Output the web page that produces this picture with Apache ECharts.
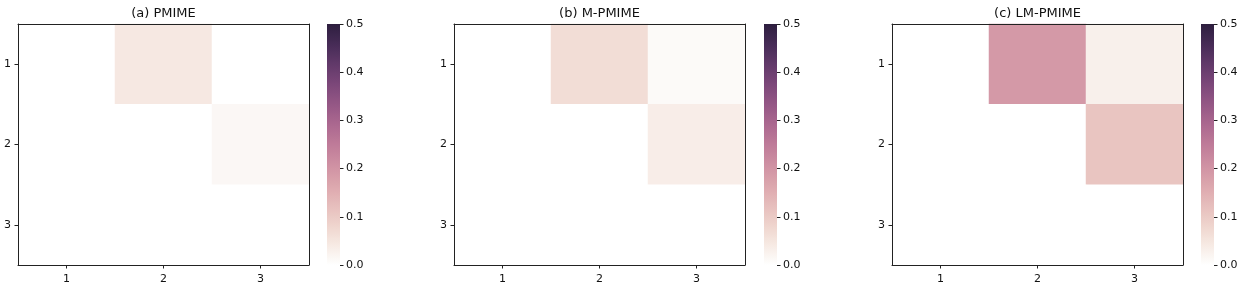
<!DOCTYPE html>
<html><head><meta charset="utf-8">
<script src="https://cdn.jsdelivr.net/npm/echarts@6/dist/echarts.min.js"></script>
<style>html,body{margin:0;padding:0;background:#fff}#c{width:1247px;height:295px}</style>
</head><body><div id="c"></div>
<script>
// ---- data ----
const xCats = ['1', '2', '3'];
const yCats = ['1', '2', '3'];
const titles = ['(a) PMIME', '(b) M-PMIME', '(c) LM-PMIME'];
const pmime   = [[0, 0.045, 0], [0, 0, 0.015], [0, 0, 0]];
const mpmime  = [[0, 0.065, 0.01], [0, 0, 0.035], [0, 0, 0]];
const lmpmime = [[0, 0.19, 0.03], [0, 0, 0.11], [0, 0, 0]];
const colorbarTicks = [0, 0.1, 0.2, 0.3, 0.4, 0.5];
const vMin = 0, vMax = 0.5;

(function () {
// ---- colormap (seaborn cubehelix, light=1, dark=0.15) ----
function cube(x) {
  const hue = 0.8, start = 0, rot = 0.4;
  const xg = x;
  const a = hue * xg * (1 - xg) / 2;
  const phi = 2 * Math.PI * (start / 3 + rot * x);
  const f = (p0, p1) => Math.min(1, Math.max(0, xg + a * (p0 * Math.cos(phi) + p1 * Math.sin(phi))));
  const r = Math.round(f(-0.14861, 1.78277) * 255);
  const g = Math.round(f(-0.29227, -0.90649) * 255);
  const b = Math.round(f(1.97294, 0) * 255);
  return 'rgb(' + r + ',' + g + ',' + b + ')';
}
const light = 1.0, dark = 0.15;
const N = 64;
const palette = [];
for (let i = 0; i < N; i++) { const t = i / (N - 1); palette.push(cube(light + (dark - light) * t)); }

const mats = [pmime, mpmime, lmpmime];
const lefts = [18, 454, 892];
const plotW = 291, plotH = 241, gridTop = 24;
const cbLefts = [327, 764, 1201];
const cbW = 13;
const font = 'DejaVu Sans';

const grid = [], xAxis = [], yAxis = [], series = [], title = [];
mats.forEach((m, k) => {
  grid.push({ left: lefts[k], top: gridTop, width: plotW, height: plotH, containLabel: false });
  grid.push({ left: cbLefts[k], top: gridTop, width: cbW, height: plotH, containLabel: false });
  const gi = 2 * k, ci = 2 * k + 1;
  const xi = xAxis.length, yi = yAxis.length;
  xAxis.push({ type: 'category', gridIndex: gi, data: xCats, position: 'bottom',
    axisLine: { show: true, lineStyle: { color: '#222', width: 1 } },
    axisTick: { show: true, alignWithLabel: true, length: 3.5, lineStyle: { color: '#222' } },
    axisLabel: { fontFamily: font, fontSize: 11, color: '#111', margin: 9 },
    splitLine: { show: false }, z: 5 });
  xAxis.push({ type: 'category', gridIndex: gi, data: xCats, position: 'top',
    axisLine: { show: true, onZero: false, lineStyle: { color: '#222', width: 1 } },
    axisTick: { show: false }, axisLabel: { show: false }, splitLine: { show: false }, z: 5 });
  yAxis.push({ type: 'category', gridIndex: gi, data: yCats, inverse: true, position: 'left',
    axisLine: { show: true, lineStyle: { color: '#222', width: 1 } },
    axisTick: { show: true, alignWithLabel: true, length: 3.5, lineStyle: { color: '#222' } },
    axisLabel: { fontFamily: font, fontSize: 11, color: '#111', margin: 7 },
    splitLine: { show: false }, z: 5 });
  yAxis.push({ type: 'category', gridIndex: gi, data: yCats, inverse: true, position: 'right',
    axisLine: { show: true, onZero: false, lineStyle: { color: '#222', width: 1 } },
    axisTick: { show: false }, axisLabel: { show: false }, splitLine: { show: false }, z: 5 });
  const cxi = xAxis.length, cyi = yAxis.length;
  xAxis.push({ type: 'category', gridIndex: ci, data: [''], show: false, boundaryGap: true });
  yAxis.push({ type: 'value', gridIndex: ci, min: vMin, max: vMax, interval: 0.1, position: 'right',
    axisLine: { show: false },
    axisTick: { show: true, length: 3.5, inside: false, lineStyle: { color: '#222' } },
    axisLabel: { fontFamily: font, fontSize: 11, color: '#111', margin: 6, formatter: v => v.toFixed(1) },
    splitLine: { show: false } });

  const data = [];
  m.forEach((row, r) => row.forEach((v, c) => data.push([c, r, v])));
  series.push({ type: 'heatmap', xAxisIndex: xi, yAxisIndex: yi, data: data,
    itemStyle: { borderWidth: 0 }, emphasis: { disabled: true }, z: 2 });

  const stops = palette.map((c, i) => ({ offset: i / (N - 1), color: c }));
  series.push({ type: 'bar', xAxisIndex: cxi, yAxisIndex: cyi, data: [colorbarTicks[colorbarTicks.length - 1]],
    barWidth: '100%', silent: true,
    itemStyle: { color: new echarts.graphic.LinearGradient(0, 1, 0, 0, stops) } });

  title.push({ text: titles[k], left: lefts[k] + plotW / 2, top: 7, padding: 0, textAlign: 'center',
    textStyle: { fontFamily: font, fontSize: 13, fontWeight: 'normal', color: '#111' } });
});

const chart = echarts.init(document.getElementById('c'), null, { renderer: 'canvas' });
chart.setOption({
  animation: false,
  backgroundColor: '#fff',
  title: title,
  grid: grid, xAxis: xAxis, yAxis: yAxis,
  visualMap: { type: 'continuous', show: false, min: vMin, max: vMax, seriesIndex: [0, 2, 4],
    inRange: { color: palette } },
  series: series
});
})();
</script></body></html>
